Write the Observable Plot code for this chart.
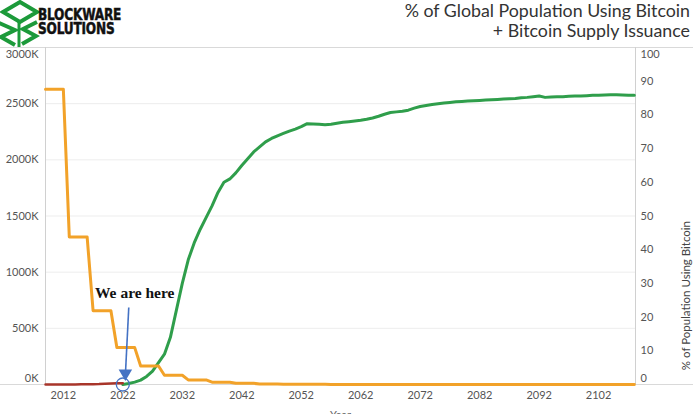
<!DOCTYPE html>
<html>
<head>
<meta charset="utf-8">
<script src="https://cdn.jsdelivr.net/npm/d3@7"></script>
<script src="https://cdn.jsdelivr.net/npm/@observablehq/plot@0.6"></script>
<style>
html, body { margin: 0; padding: 0; background: #fff; }
#wrap { position: relative; width: 693px; height: 414px; overflow: hidden; font-family: Lato, "Open Sans", sans-serif; }
.hline { position: absolute; left: 0; width: 693px; height: 1px; background: #d9d9d9; z-index: 0; }
#chart { position: absolute; left: 0; top: 0; z-index: 1; }
#logo { position: absolute; left: 0; top: 0; z-index: 2; }
#brand { position: absolute; left: 38px; top: 8px; z-index: 2; font-family: "DejaVu Sans Condensed", "DejaVu Sans", sans-serif; font-stretch: condensed; font-weight: bold; font-size: 13.5px; line-height: 11.7px; color: #111; -webkit-text-stroke: 0.4px #111; letter-spacing: -0.2px; white-space: nowrap; transform: scaleY(1.2); transform-origin: 0 0; }
#title { position: absolute; right: 3px; top: 0px; z-index: 2; text-align: right; font-family: Lato, sans-serif; font-size: 17.8px; line-height: 20px; color: #333; }
</style>
</head>
<body>
<div id="wrap">
  <div class="hline" style="top:47px"></div>
  <div class="hline" style="top:384px"></div>
  <svg id="logo" width="40" height="48" viewBox="0 0 40 48">
    <g fill="none" stroke="#1c9a3a" stroke-width="4" stroke-linejoin="miter">
      <path d="M3,12 L20,2 L37,12 L20,22 Z"/>
      <path d="M19,22 L19,47" stroke-width="3"/>
      <path d="M-1,23 L15,30 L1,37 L15,45"/>
      <path d="M37,22 L23,29 L36,36 L22,44"/>
    </g>
  </svg>
  <div id="brand">BLOCKWARE<br>SOLUTIONS</div>
  <div id="title">% of Global Population Using Bitcoin<br>+ Bitcoin Supply Issuance</div>
  <div id="chart"></div>
</div>
<script>
// ---- data ----
const xDomain = [2009, 2108.2];
const yearTicks = [2012, 2022, 2032, 2042, 2052, 2062, 2072, 2082, 2092, 2102];
const leftTicks = [500, 1000, 1500, 2000, 2500];
const rightTicks = [10, 20, 30, 40, 50, 60, 70, 80, 90];

// Bitcoin supply issuance (thousands of BTC per year), step corners
const supplyYears  = [2009, 2012, 2013, 2016, 2017, 2020, 2021, 2024, 2025, 2028, 2029, 2032, 2033, 2036, 2037, 2040, 2041, 2044, 2045, 2048, 2049, 2052, 2053, 2056, 2057, 2060, 2061, 2064, 2065, 2108];
const supplyValues = [2628, 2628, 1314, 1314, 657, 657, 328.5, 328.5, 164.3, 164.3, 82.1, 82.1, 41.1, 41.1, 20.5, 20.5, 10.3, 10.3, 5.1, 5.1, 2.6, 2.6, 1.3, 1.3, 0.6, 0.6, 0.3, 0.3, 0.1, 0];

// Historical % of population using bitcoin
const histYears = [2009, 2010, 2011, 2012, 2013, 2014, 2015, 2016, 2017, 2018, 2019, 2020, 2021, 2022];
const histPct   = [0, 0, 0, 0, 0, 0.02, 0.04, 0.06, 0.1, 0.15, 0.25, 0.3, 0.35, 0.4];

// Projected % of population using bitcoin
const projYears = [2022, 2023, 2024, 2025, 2026, 2027, 2028, 2029, 2030, 2031, 2032, 2033, 2034, 2035, 2036, 2037, 2038, 2039, 2040, 2041, 2042, 2043, 2044, 2045, 2046, 2047, 2048, 2049, 2050, 2051, 2052, 2053, 2054, 2055, 2056, 2057, 2058, 2059, 2060, 2061, 2062, 2063, 2064, 2065, 2066, 2067, 2068, 2069, 2070, 2071, 2072, 2073, 2074, 2075, 2076, 2077, 2078, 2079, 2080, 2081, 2082, 2083, 2084, 2085, 2086, 2087, 2088, 2089, 2090, 2091, 2092, 2093, 2094, 2095, 2096, 2097, 2098, 2099, 2100, 2101, 2102, 2103, 2104, 2105, 2106, 2107, 2108];
const projPct   = [0, 0.3, 0.7, 1.3, 2.4, 4, 6.5, 9, 14, 22, 30, 37, 42, 46, 49.5, 53, 57, 60, 61, 62.8, 65, 67, 69, 70.5, 72, 73, 73.8, 74.5, 75.2, 75.8, 76.5, 77.4, 77.3, 77.2, 77.1, 77.2, 77.5, 77.8, 78, 78.2, 78.4, 78.7, 79.1, 79.6, 80.2, 80.7, 80.9, 81.1, 81.4, 82, 82.5, 82.8, 83.1, 83.3, 83.5, 83.7, 83.9, 84, 84.1, 84.2, 84.3, 84.4, 84.5, 84.6, 84.7, 84.8, 84.9, 85.1, 85.2, 85.4, 85.6, 85.2, 85.3, 85.4, 85.4, 85.5, 85.6, 85.6, 85.7, 85.8, 85.8, 85.9, 86, 86, 85.9, 85.8, 85.8];

// annotation
const hereYear = 2022;
const noteText = "We are here";

// ---- build ----
const pctToK = 30; // right axis 0–100 shares the left axis 0–3000K
const supply = supplyYears.map((y, i) => ({year: y, k: supplyValues[i]}));
const hist = histYears.map((y, i) => ({year: y, pct: histPct[i]}));
const proj = projYears.map((y, i) => ({year: y, pct: projPct[i]}));

const tickStyle = {tickSize: 0, fontSize: 11, label: null};

const chart = Plot.plot({
  width: 693,
  height: 414,
  marginLeft: 45,
  marginRight: 58,
  marginTop: 47,
  marginBottom: 30,
  style: {background: "transparent", color: "#555", fontFamily: "Lato, sans-serif", fontSize: "11px"},
  x: {domain: xDomain},
  y: {domain: [0, 3000]},
  marks: [
    Plot.ruleY(leftTicks, {stroke: "#ededed"}),
    Plot.ruleX(xDomain, {stroke: "#d0d0d0"}),
    Plot.axisX({...tickStyle, ticks: yearTicks, tickPadding: 7, tickFormat: d => String(d)}),
    Plot.axisY({...tickStyle, ticks: leftTicks, tickPadding: 7, tickFormat: d => d + "K"}),
    Plot.axisY({...tickStyle, ticks: [3000], tickPadding: 7, dy: 7, tickFormat: d => d + "K"}),
    Plot.axisY({...tickStyle, ticks: [0], tickPadding: 7, dy: -6, tickFormat: d => d + "K"}),
    Plot.axisY({...tickStyle, anchor: "right", ticks: rightTicks.map(v => v * pctToK), tickPadding: 5, tickFormat: d => String(Math.round(d / pctToK))}),
    Plot.axisY({...tickStyle, anchor: "right", ticks: [100 * pctToK], tickPadding: 5, dy: 7, tickFormat: d => String(Math.round(d / pctToK))}),
    Plot.axisY({...tickStyle, anchor: "right", ticks: [0], tickPadding: 5, dy: -6, tickFormat: d => String(Math.round(d / pctToK))}),
    Plot.text(["% of Population Using Bitcoin"], {frameAnchor: "right", dx: 51, dy: 5, rotate: -90, fontSize: 11.5, fill: "#444"}),
    Plot.text(["Year"], {frameAnchor: "bottom", dy: 34, fontSize: 11, fill: "#666"}),
    Plot.line(proj, {x: "year", y: d => d.pct * pctToK, stroke: "#2f9e4b", strokeWidth: 3, curve: "linear"}),
    Plot.line(supply, {x: "year", y: "k", stroke: "#f2a229", strokeWidth: 3}),
    Plot.line(hist, {x: "year", y: d => d.pct * pctToK, stroke: "#a8352a", strokeWidth: 2.5}),
    Plot.text([noteText], {x: hereYear + 2, y: 810, fontFamily: "Liberation Serif, serif", fontWeight: "bold", fontSize: 15.5, fill: "#111"}),
    Plot.link([{x1: hereYear + 1, y1: 685, x2: hereYear + 0.45, y2: 105}], {x1: "x1", y1: "y1", x2: "x2", y2: "y2", stroke: "#4472c4", strokeWidth: 1.6}),
    Plot.dot([{x: hereYear + 0.43, y: 100}], {x: "x", y: "y", symbol: "triangle", r: 5, rotate: 180, fill: "#4472c4", stroke: "none"}),
    Plot.dot([{x: hereYear, y: 0}], {x: "x", y: "y", r: 6.5, stroke: "#4472c4", fill: "none", strokeWidth: 1.3})
  ]
});
document.getElementById("chart").appendChild(chart);
</script>
</body>
</html>
